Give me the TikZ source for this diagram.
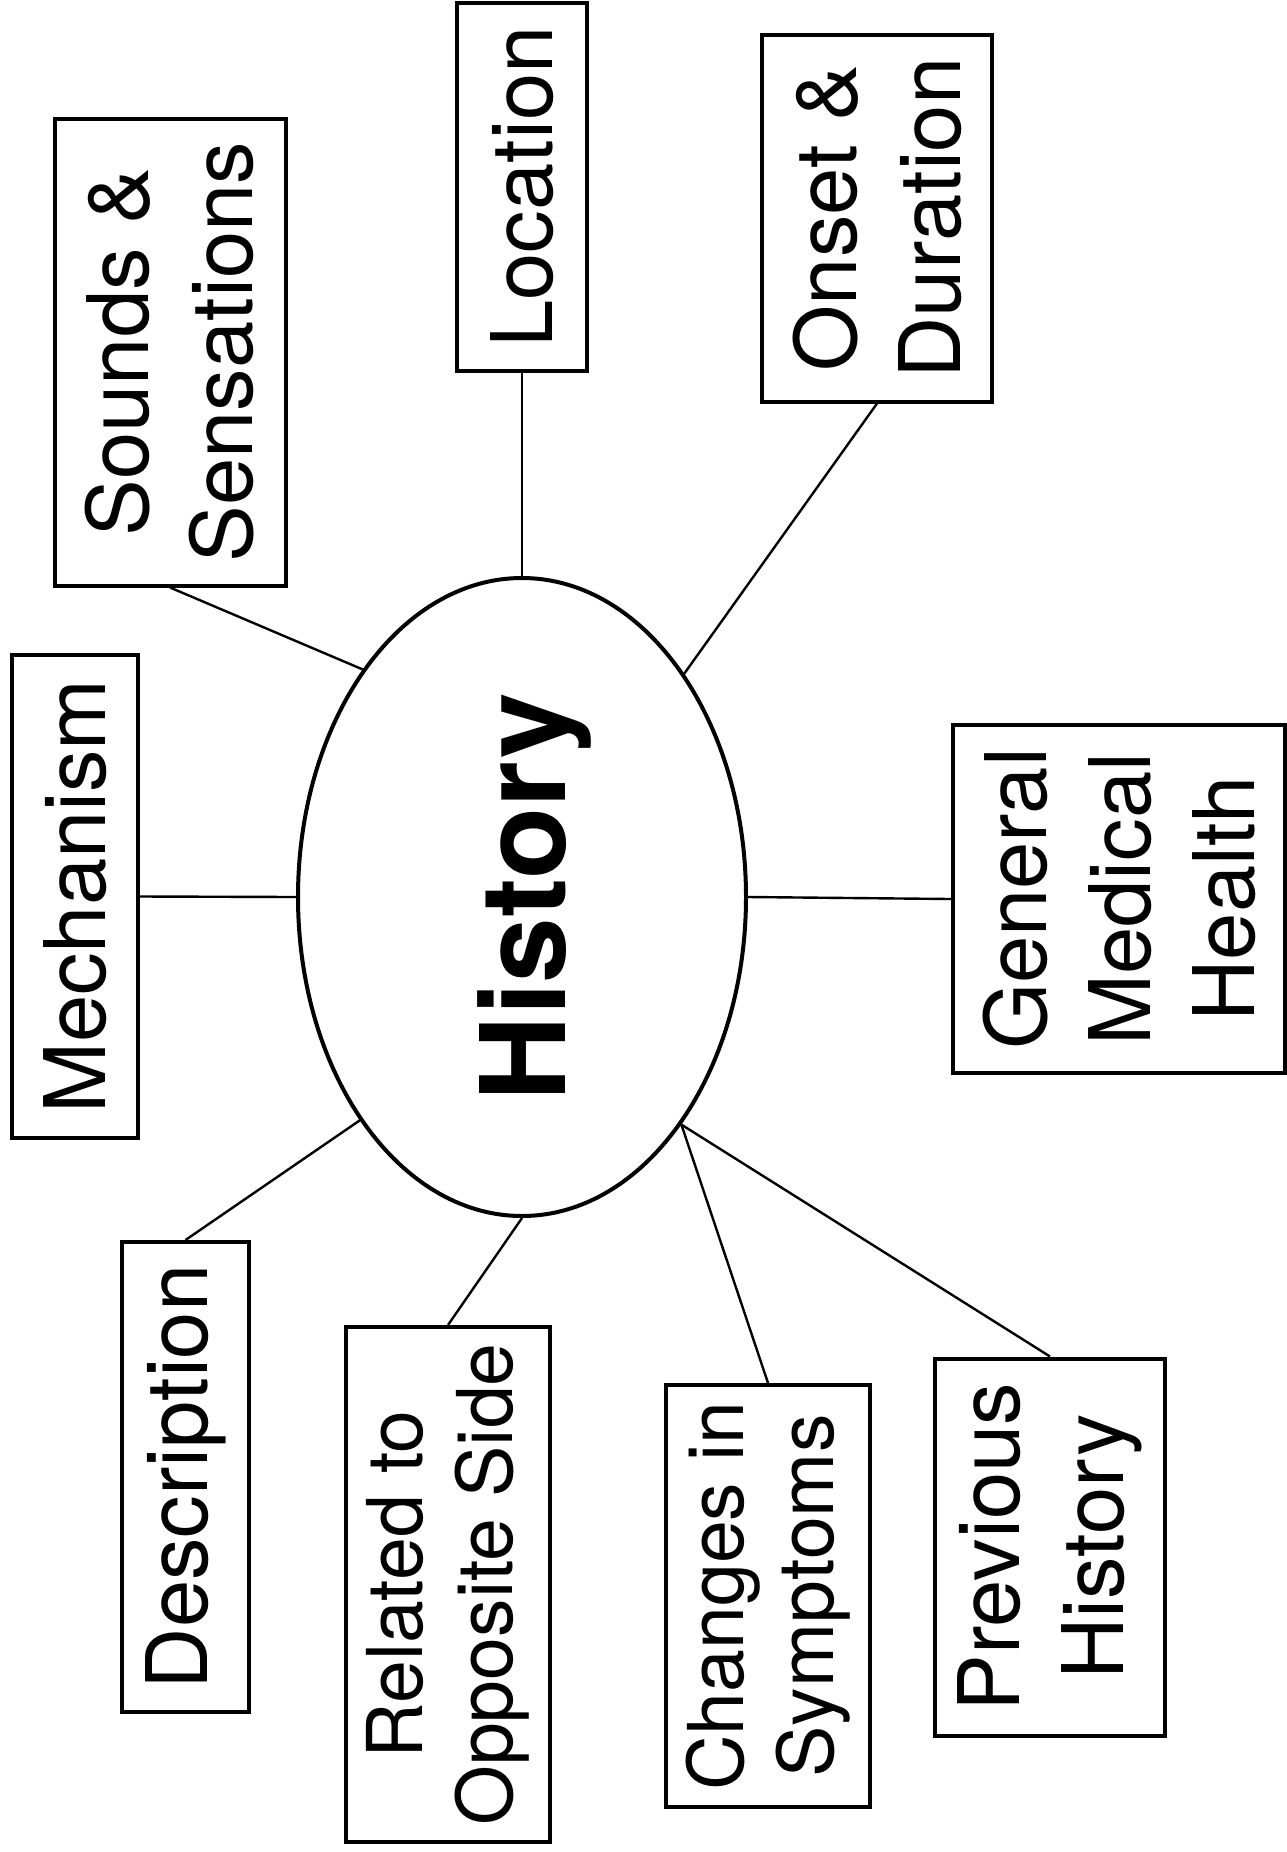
\documentclass[tikz,border=0pt]{standalone}
\usepackage{fontspec}
\setmainfont{TeX Gyre Heros}
\usetikzlibrary{shapes.geometric}
\begin{document}
\begin{tikzpicture}[x=0.5pt,y=-0.5pt,
  box/.style={draw, line width=2pt, rotate=90, align=center, inner sep=0pt,
    font=\fontsize{42.5}{52}\selectfont},
  smallbox/.style={box, font=\fontsize{38.5}{45}\selectfont},
  conn/.style={line width=1.2pt},
  hist/.style={draw, ellipse, line width=2pt, inner sep=0pt,
    minimum width=224pt, minimum height=319pt}]
\useasboundingbox (0,0) rectangle (1286,1852);
\node[hist] (h) at (522,897) {\rotatebox{90}{\fontsize{59}{70}\selectfont\bfseries\raisebox{0pt}[\height][0pt]{History}}};
\node[box, minimum width=233.5pt, minimum height=115.5pt] (sounds) at (170,352) {Sounds \&\\Sensations};
\node[box, minimum width=184pt, minimum height=65pt] (loc) at (522,187) {Location};
\node[box, minimum width=183.5pt, minimum height=115pt] (onset) at (877,218) {Onset \&\\Duration};
\node[box, minimum width=174pt, minimum height=166pt] (gen) at (1119,899) {General\\Medical\\Health};
\node[box, minimum width=241.5pt, minimum height=63pt] (mech) at (75,896.5) {Mechanism};
\node[box, minimum width=235pt, minimum height=63.5pt] (desc) at (185.5,1477) {Description};
\node[smallbox, minimum width=257.5pt, minimum height=102pt] (rel) at (448,1584.5) {Related to\\Opposite Side};
\node[smallbox, minimum width=211pt, minimum height=102pt] (chg) at (768,1596) {Changes in\\Symptoms};
\node[box, minimum width=188.5pt, minimum height=115pt] (prev) at (1050,1547) {Previous\\History};
\draw[conn] (sounds.west) -- (h.125.3);
\draw[conn] (loc.west) -- (h.north);
\draw[conn] (onset.west) -- (h.54.4);
\draw[conn] (gen.north) -- (h.east);
\draw[conn] (mech.south) -- (h.west);
\draw[conn] (desc.east) -- (h.234.5);
\draw[conn] (rel.east) -- (h.south);
\draw[conn] (chg.east) -- (h.305.6);
\draw[conn] (prev.east) -- (h.305.6);
\end{tikzpicture}
\end{document}
